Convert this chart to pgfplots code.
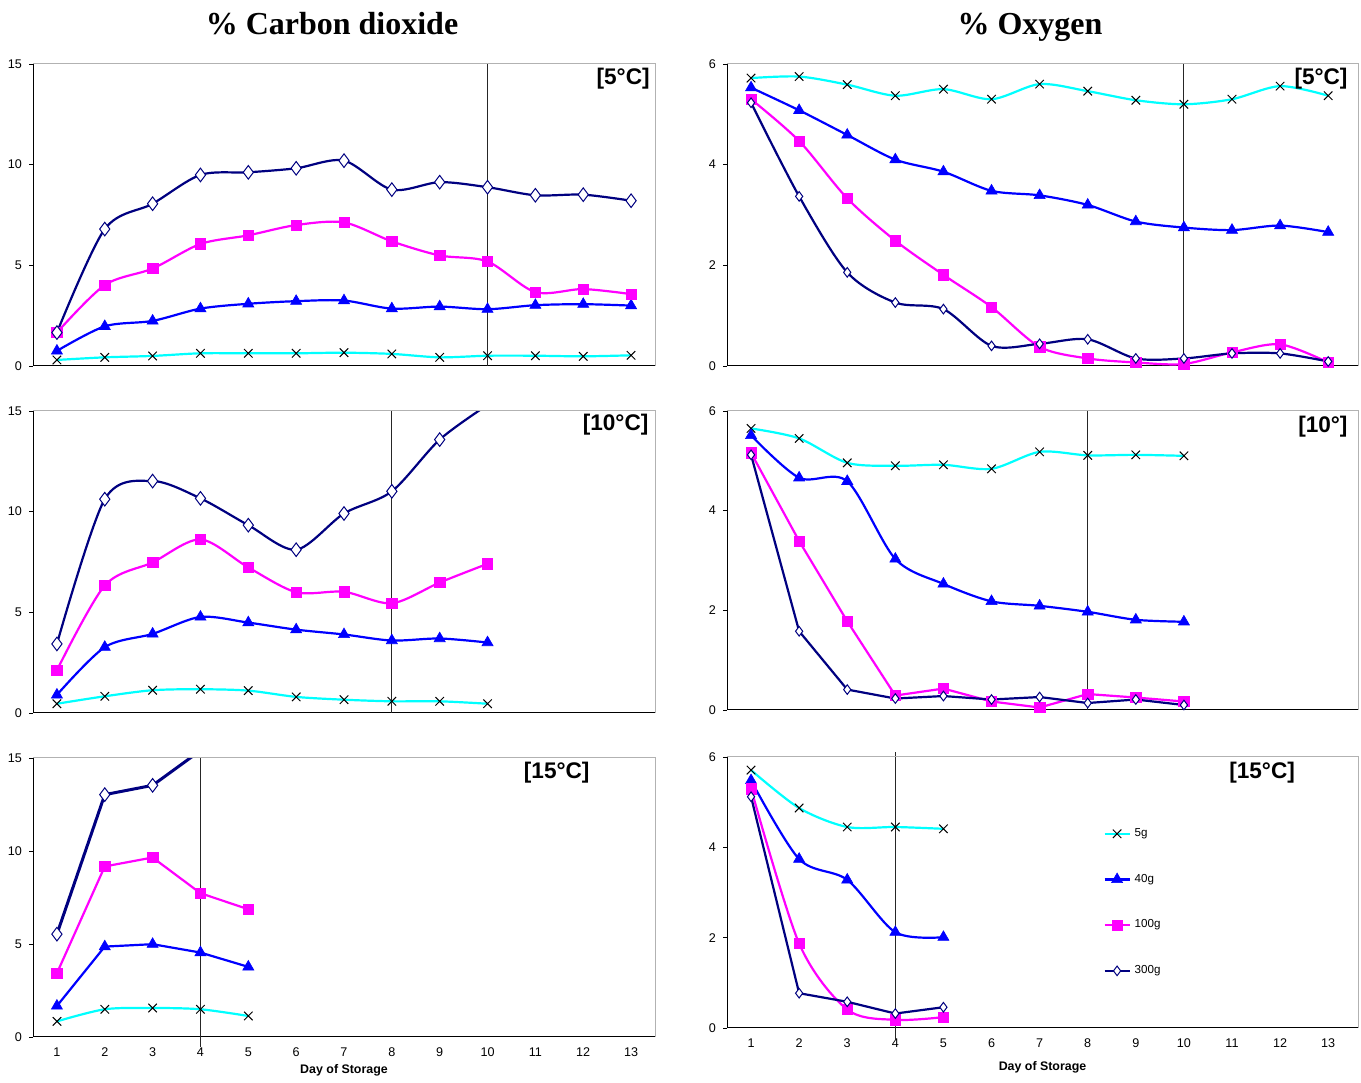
\documentclass[border=0pt]{standalone}
\usepackage{pgfplots}
\pgfplotsset{compat=1.18}
\usepackage{fontspec}
\setmainfont{Liberation Sans}
\newfontfamily\titlefont{Liberation Serif}

\definecolor{c5}{HTML}{00FFFF}
\definecolor{c40}{HTML}{0000FF}
\definecolor{c100}{HTML}{FF00FF}
\definecolor{c300}{HTML}{000080}

\tikzset{tag/.style={font=\fontsize{11.3}{13}\selectfont\bfseries, inner sep=0pt}}

\pgfplotsset{
  panel/.style={
    scale only axis, anchor=north west, xmin=0.5, ymin=0, clip=true,
    axis x line*=bottom, axis y line*=left,
    axis line style={black, line width=0.5pt},
    tick align=outside, major tick length=2pt,
    ytick style={black, line width=0.4pt},
    xtick style={draw=none},
    ticklabel style={font=\fontsize{6.3}{7}\selectfont},
    /pgf/number format/assume math mode=true,
    extra description/.code={\draw[gray!60, line width=0.5pt] (0,1)--(1,1)--(1,0);},
    xlabel style={font=\fontsize{6.2}{7}\selectfont\bfseries},
  },
  co2/.style={panel, width=311pt, xmax=13.5, ymax=15, ytick={0,5,10,15}},
  o2/.style={panel, width=315.5pt, xmax=13.62, ymax=6, ytick={0,2,4,6}},
  vline/.style={black!85, line width=0.45pt, forget plot, no markers},
  s5/.style={c5, line width=1.1pt, mark=x, mark size=3pt, mark options={black, line width=0.5pt}},
  s40/.style={c40, line width=1.1pt, mark=triangle*, mark size=3.2pt, mark options={fill=c40, draw=c40, line width=0.3pt}},
  s100/.style={c100, line width=1.1pt, mark=square*, mark size=2.6pt, mark options={fill=c100, draw=c100, line width=0.3pt}},
  s300/.style={c300, line width=1.1pt, mark=diamond*, mark size=3.4pt, mark options={fill=white, draw=c300, line width=0.5pt}},
  s300o/.style={s300, mark size=2.4pt},
  sm/.style={smooth, tension=0.5},
}

\begin{document}
\begin{tikzpicture}
\path (0,0) rectangle (680.5pt,-540pt);

\node[font=\titlefont\bfseries\fontsize{16}{18}\selectfont, anchor=base] at (166pt,-17.5pt) {\% Carbon dioxide};
\node[font=\titlefont\bfseries\fontsize{16}{18}\selectfont, anchor=base] at (515pt,-17.5pt) {\% Oxygen};

% CO2 5C
\begin{axis}[co2, at={(16.5pt,-32pt)}, height=151pt, xtick=\empty]
\addplot[vline] coordinates {(10,0) (10,15)};
\addplot[s5, sm] coordinates {(1,0.30) (2,0.43) (3,0.50) (4,0.63) (5,0.63) (6,0.63) (7,0.66) (8,0.60) (9,0.43) (10,0.51) (11,0.51) (12,0.48) (13,0.53)};
\addplot[s40, sm] coordinates {(1,0.75) (2,1.97) (3,2.24) (4,2.85) (5,3.09) (6,3.22) (7,3.25) (8,2.85) (9,2.95) (10,2.82) (11,3.02) (12,3.07) (13,3.00)};
\addplot[s100, sm] coordinates {(1,1.66) (2,4.02) (3,4.84) (4,6.06) (5,6.49) (6,7.00) (7,7.13) (8,6.19) (9,5.49) (10,5.19) (11,3.67) (12,3.82) (13,3.57)};
\addplot[s300, sm] coordinates {(1,1.66) (2,6.80) (3,8.06) (4,9.49) (5,9.62) (6,9.82) (7,10.20) (8,8.76) (9,9.13) (10,8.88) (11,8.48) (12,8.51) (13,8.21)};
\node[tag, anchor=east] at (rel axis cs:0.992,0.950) {[5°C]};
\end{axis}

% CO2 10C
\begin{axis}[co2, at={(16.5pt,-205.5pt)}, height=151pt, xtick=\empty]
\addplot[vline] coordinates {(8,0) (8,15)};
\addplot[s5, sm] coordinates {(1,0.46) (2,0.83) (3,1.13) (4,1.18) (5,1.11) (6,0.80) (7,0.66) (8,0.58) (9,0.58) (10,0.46)};
\addplot[s40, sm] coordinates {(1,0.90) (2,3.27) (3,3.93) (4,4.77) (5,4.49) (6,4.14) (7,3.90) (8,3.60) (9,3.70) (10,3.50)};
\addplot[s100, sm] coordinates {(1,2.12) (2,6.33) (3,7.48) (4,8.62) (5,7.23) (6,6.00) (7,6.02) (8,5.45) (9,6.48) (10,7.41)};
\addplot[s300, sm, mark indices={1,2,3,4,5,6,7,8,9}] coordinates {(1,3.43) (2,10.62) (3,11.52) (4,10.66) (5,9.33) (6,8.11) (7,9.91) (8,11.01) (9,13.58) (10,15.30)};
\node[tag, anchor=east] at (rel axis cs:0.990,0.954) {[10°C]};
\end{axis}

% CO2 15C
\begin{axis}[co2, at={(16.5pt,-379pt)}, height=139.5pt, xtick={1,...,13}, xlabel={Day of Storage},
  xlabel style={yshift=3pt}, clip mode=individual]
\draw[black!85, line width=0.45pt] (axis cs:4,-0.54) -- (axis cs:4,15);
\addplot[s5, sm] coordinates {(1,0.84) (2,1.49) (3,1.56) (4,1.49) (5,1.13)};
\addplot[s40] coordinates {(1,1.67) (2,4.86) (3,4.99) (4,4.54) (5,3.77)};
\addplot[s100] coordinates {(1,3.43) (2,9.17) (3,9.65) (4,7.73) (5,6.87)};
\addplot[s300, line width=1.5pt, mark indices={1,2,3}] coordinates {(1,5.53) (2,13.03) (3,13.53) (4,15.40)};
\node[tag] at (rel axis cs:0.842,0.946) {[15°C]};
\end{axis}

% O2 5C
\begin{axis}[o2, at={(363.5pt,-32pt)}, height=151pt, xtick=\empty]
\addplot[vline] coordinates {(10,0) (10,6)};
\addplot[s5, sm] coordinates {(1,5.72) (2,5.75) (3,5.59) (4,5.37) (5,5.50) (6,5.30) (7,5.60) (8,5.46) (9,5.28) (10,5.20) (11,5.30) (12,5.56) (13,5.37)};
\addplot[s40, sm] coordinates {(1,5.53) (2,5.08) (3,4.59) (4,4.10) (5,3.86) (6,3.48) (7,3.39) (8,3.20) (9,2.87) (10,2.75) (11,2.70) (12,2.79) (13,2.66)};
\addplot[s100, sm] coordinates {(1,5.30) (2,4.47) (3,3.33) (4,2.49) (5,1.81) (6,1.17) (7,0.38) (8,0.15) (9,0.07) (10,0.04) (11,0.27) (12,0.43) (13,0.07)};
\addplot[s300o, sm] coordinates {(1,5.23) (2,3.37) (3,1.86) (4,1.26) (5,1.13) (6,0.40) (7,0.44) (8,0.53) (9,0.15) (10,0.15) (11,0.25) (12,0.25) (13,0.09)};
\node[tag, anchor=east] at (rel axis cs:0.984,0.950) {[5°C]};
\end{axis}

% O2 10C
\begin{axis}[o2, at={(363.5pt,-205.5pt)}, height=149.5pt, xtick=\empty]
\addplot[vline] coordinates {(8,0) (8,6)};
\addplot[s5, sm] coordinates {(1,5.65) (2,5.45) (3,4.96) (4,4.90) (5,4.92) (6,4.84) (7,5.18) (8,5.11) (9,5.12) (10,5.10)};
\addplot[s40, sm] coordinates {(1,5.51) (2,4.66) (3,4.59) (4,3.03) (5,2.53) (6,2.18) (7,2.09) (8,1.97) (9,1.81) (10,1.77)};
\addplot[s100] coordinates {(1,5.16) (2,3.39) (3,1.78) (4,0.29) (5,0.43) (6,0.17) (7,0.05) (8,0.32) (9,0.25) (10,0.17)};
\addplot[s300o] coordinates {(1,5.12) (2,1.58) (3,0.41) (4,0.23) (5,0.28) (6,0.21) (7,0.26) (8,0.14) (9,0.21) (10,0.10)};
\node[tag, anchor=east] at (rel axis cs:0.984,0.946) {[10°]};
\end{axis}

% O2 15C
\begin{axis}[o2, at={(363.5pt,-378.5pt)}, height=135.5pt, xtick={1,...,13}, xlabel={Day of Storage},
  clip mode=individual,
  legend style={at={(0.596,0.753)}, anchor=north west, draw=none, fill=none,
    font=\fontsize{5.8}{7}\selectfont, row sep=13.3pt, inner sep=0pt},
  legend cell align=left,
  legend image code/.code={\draw[mark repeat=2,mark phase=2] plot coordinates {(0cm,0cm) (0.22cm,0cm) (0.44cm,0cm)};}]
\draw[black!85, line width=0.45pt] (axis cs:4,-0.27) -- (axis cs:4,6.1);
\addplot[s5, sm] coordinates {(1,5.71) (2,4.87) (3,4.45) (4,4.45) (5,4.41)};
\addlegendentry{5g}
\addplot[s40, sm] coordinates {(1,5.48) (2,3.74) (3,3.28) (4,2.12) (5,2.01)};
\addlegendentry{40g}
\addplot[s100, sm] coordinates {(1,5.30) (2,1.87) (3,0.41) (4,0.18) (5,0.24)};
\addlegendentry{100g}
\addplot[s300o] coordinates {(1,5.12) (2,0.77) (3,0.58) (4,0.32) (5,0.46)};
\addlegendentry{300g}
\node[tag] at (rel axis cs:0.848,0.941) {[15°C]};
\end{axis}
\end{tikzpicture}
\end{document}
